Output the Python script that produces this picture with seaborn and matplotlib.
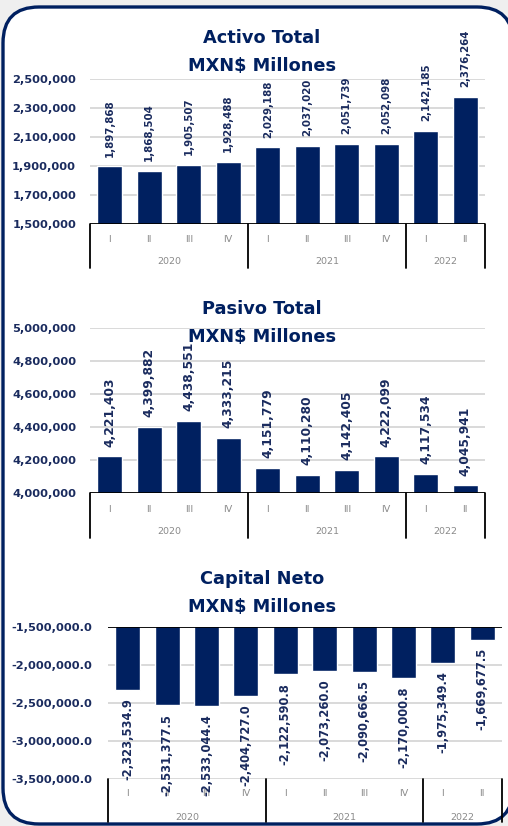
import numpy as np
import pandas as pd
import matplotlib
matplotlib.use("Agg")
import matplotlib.pyplot as plt
import seaborn as sns
from matplotlib.patches import FancyBboxPatch
from matplotlib.transforms import IdentityTransform, blended_transform_factory

# datos trimestrales
trimestres = ["I", "II", "III", "IV", "I", "II", "III", "IV", "I", "II"]
anios = ["2020", "2021", "2022"]
trim_por_anio = [4, 4, 2]
activo = [1897868, 1868504, 1905507, 1928488, 2029188, 2037020, 2051739, 2052098, 2142185, 2376264]
pasivo = [4221403, 4399882, 4438551, 4333215, 4151779, 4110280, 4142405, 4222099, 4117534, 4045941]
capital = [-2323534.9, -2531377.5, -2533044.4, -2404727.0, -2122590.8, -2073260.0,
           -2090666.5, -2170000.8, -1975349.4, -1669677.5]

navy = "#002060"
txt_navy = "#1a2b5e"
gris = "#8a8a8a"

sns.set_style("white")
plt.rcParams["font.family"] = ["DejaVu Sans"]

W, H = 508, 826
fig = plt.figure(figsize=(W / 100, H / 100), dpi=100, facecolor="#efefef")

# marco redondeado
marco = FancyBboxPatch((3, 2), 510, 817, boxstyle="round,pad=0,rounding_size=36",
                       transform=IdentityTransform(), facecolor="white",
                       edgecolor=navy, linewidth=2.4, zorder=-10)
fig.patches.append(marco)


def panel(rect_px, valores, ylim, yticks, fmt, titulo, title_y, depth, q_off, y_off,
          lbl_size, arriba=True, tick_fmt="{:,.0f}", top_axis=False, pad=10):
    l, t, r, b = rect_px
    ax = fig.add_axes([l / W, 1 - b / H, (r - l) / W, (b - t) / H])
    ax.patch.set_alpha(0)
    df = pd.DataFrame({"periodo": [f"{i}" for i in range(len(valores))], "valor": valores})
    sns.barplot(data=df, x="periodo", y="valor", color=navy, saturation=1, width=0.63,
                ax=ax, zorder=3)
    ax.set_xlim(-0.5, len(valores) - 0.5)
    ax.set_ylim(*ylim)
    ax.set_yticks(yticks)
    ax.set_yticklabels([tick_fmt.format(v) for v in yticks], fontsize=8.2,
                       fontweight="bold", color=txt_navy)
    ax.tick_params(axis="y", length=0, pad=pad)
    ax.set_xticks([])
    ax.set_xlabel("")
    ax.set_ylabel("")
    for s in ax.spines.values():
        s.set_visible(False)
    for v in yticks:
        ax.axhline(v, color="#d9d9d9", lw=1.4, zorder=1)
    if top_axis:
        ax.axhline(ylim[1], color="black", lw=1.3, zorder=4)
    else:
        ax.axhline(ylim[0], color="black", lw=1.3, zorder=4)

    # etiquetas de valor
    for i, v in enumerate(valores):
        if arriba:
            ax.annotate(fmt.format(v), (i, v), xytext=(0, 7), textcoords="offset points",
                        rotation=90, ha="center", va="bottom", fontsize=lbl_size,
                        fontweight="bold", color=txt_navy, annotation_clip=False, zorder=5)
        else:
            ax.annotate(fmt.format(v), (i, v), xytext=(0, -6), textcoords="offset points",
                        rotation=90, ha="center", va="top", fontsize=lbl_size,
                        fontweight="bold", color=txt_navy, annotation_clip=False, zorder=5)

    # eje de categorias de dos niveles
    hpx = b - t
    tr = blended_transform_factory(ax.transData, ax.transAxes)
    bordes = [-0.5]
    for n in trim_por_anio:
        bordes.append(bordes[-1] + n)
    for x in bordes:
        ax.plot([x, x], [0, -depth / hpx], color="black", lw=1.3, transform=tr, clip_on=False)
    for i, q in enumerate(trimestres):
        ax.text(i, -q_off / hpx, q, transform=tr, ha="center", va="center",
                fontsize=6.8, color=gris)
    for k, a in enumerate(anios):
        ax.text((bordes[k] + bordes[k + 1]) / 2, -y_off / hpx, a, transform=tr,
                ha="center", va="center", fontsize=6.8, color=gris)

    fig.text(262 / W, 1 - title_y[0] / H, titulo, ha="center", va="center",
             fontsize=12.8, fontweight="bold", color=navy)
    fig.text(262 / W, 1 - title_y[1] / H, "MXN$ Millones", ha="center", va="center",
             fontsize=12.8, fontweight="bold", color=navy)
    return ax


panel((90, 79, 485, 224), activo, (1500000, 2500000),
      [1500000, 1700000, 1900000, 2100000, 2300000, 2500000], "{:,.0f}",
      "Activo Total", (38, 66), 44, 15, 37, 7.4)

panel((90, 328, 485, 493), pasivo, (4000000, 5000000),
      [4000000, 4200000, 4400000, 4600000, 4800000, 5000000], "{:,.0f}",
      "Pasivo Total", (309, 337), 45, 16, 38, 8.8)

panel((108, 627, 502, 779), capital, (-3500000, -1500000),
      [-3500000, -3000000, -2500000, -2000000, -1500000], "{:,.1f}",
      "Capital Neto", (579, 607), 43, 15, 38, 8.3, arriba=False,
      tick_fmt="{:,.1f}", top_axis=True, pad=11)

fig.savefig("out.png", dpi=100, facecolor=fig.get_facecolor())
